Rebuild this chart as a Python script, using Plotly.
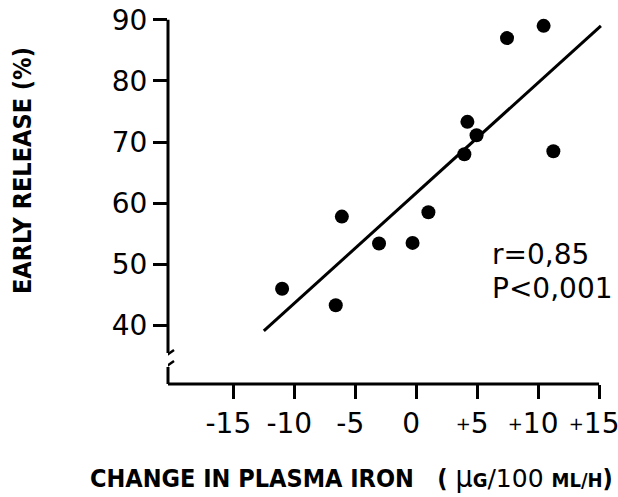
import plotly.graph_objects as go

# Data
iron_change = [-11.0, -6.6, -6.1, -3.05, -0.3, 1.0, 3.95, 4.2, 4.95, 7.45, 10.45, 11.25]
early_release = [46.0, 43.3, 57.8, 53.4, 53.5, 58.5, 68.0, 73.3, 71.1, 87.0, 89.0, 68.5]

fit_x = [-12.5, 15.15]
fit_y = [39.1, 89.0]

x_ticks = [-15, -10, -5, 0, 5, 10, 15]
x_tick_text = ["-15", "-10", "-5", "0", "+5", "+10", "+15"]
y_ticks = [40, 50, 60, 70, 80, 90]
y_tick_text = ["40", "50", "60", "70", "80", "90"]

W, H = 618, 497
L, R, T, B = 168, 6, 8, 113
XR = [-20.36, 16.06]
YR = [30.42, 91.92]

def px2xd(px):
    return XR[0] + (px - L) / (W - L - R) * (XR[1] - XR[0])

def py2yd(py):
    return YR[1] - (py - T) / (H - T - B) * (YR[1] - YR[0])

def pxp(px):
    return (px - L) / (W - L - R)

def pyp(py):
    return (H - B - py) / (H - T - B)

def fmt_tick(t):
    if t.startswith("+"):
        return "<span style='font-size:18px;baseline-shift:3px'>+</span>" + t[1:]
    return t

fig = go.Figure()
fig.add_trace(go.Scatter(x=fit_x, y=fit_y, mode="lines",
                         line=dict(color="black", width=3), showlegend=False))
fig.add_trace(go.Scatter(x=iron_change, y=early_release, mode="markers",
                         marker=dict(color="black", size=14), showlegend=False))

num_font = dict(family="DejaVu Sans", size=28, color="black")
lab_font = dict(family="DejaVu Sans Condensed, Liberation Sans Narrow, DejaVu Sans", size=25, color="black")

fig.update_layout(
    width=W, height=H,
    margin=dict(l=L, r=R, t=T, b=B),
    paper_bgcolor="white", plot_bgcolor="white",
    xaxis=dict(range=XR, showgrid=False, zeroline=False, showline=False,
               tickmode="array", tickvals=x_ticks,
               ticktext=[fmt_tick(t) for t in x_tick_text],
               ticks="outside", ticklen=14, tickwidth=3, tickcolor="black",
               tickfont=num_font, tickangle=0, ticklabeloverflow="allow",
               ticklabelshift=-5, automargin=False),
    yaxis=dict(range=YR, showgrid=False, zeroline=False, showline=False,
               tickmode="array", tickvals=y_ticks, ticktext=y_tick_text,
               ticks="outside", ticklen=14, tickwidth=3, tickcolor="black",
               tickfont=num_font, ticklabeloverflow="allow", automargin=False),
)

lw = dict(color="black", width=3)
# x axis line
fig.add_shape(type="line", xref="x", yref="paper", x0=XR[0], x1=15, y0=0, y1=0, line=lw)
# y axis with break
fig.add_shape(type="line", xref="paper", yref="y", x0=0, x1=0, y0=90, y1=py2yd(353), line=lw)
fig.add_shape(type="line", xref="paper", yref="y", x0=0, x1=0, y0=py2yd(367), y1=YR[0], line=lw)
fig.add_shape(type="line", xref="x", yref="y", x0=px2xd(161), x1=px2xd(174),
              y0=py2yd(359), y1=py2yd(350), line=dict(color="black", width=2.5))
fig.add_shape(type="line", xref="x", yref="y", x0=px2xd(161), x1=px2xd(174),
              y0=py2yd(370), y1=py2yd(361), line=dict(color="black", width=2.5))

fig.add_annotation(xref="paper", yref="paper", x=pxp(23), y=pyp(171),
                   text="<b>EARLY RELEASE (%)</b>", textangle=-90, showarrow=False,
                   font=lab_font, xanchor="center", yanchor="middle")
fig.add_annotation(xref="paper", yref="paper", x=pxp(351), y=pyp(476),
                   text="<b>CHANGE IN PLASMA IRON&nbsp;&nbsp;&nbsp;(&nbsp;</b><span style='font-size:30px'>μ</span>"
                        "<b><span style='font-size:20px'>G</span></b>"
                        "<span style='font-family:DejaVu Sans'>/100 </span>"
                        "<b><span style='font-size:20px'>ML/H</span>)</b>",
                   showarrow=False, font=lab_font, xanchor="center", yanchor="middle")
fig.add_annotation(xref="paper", yref="paper", x=pxp(490), y=pyp(254),
                   text="r=0,85", showarrow=False, font=num_font,
                   xanchor="left", yanchor="middle")
fig.add_annotation(xref="paper", yref="paper", x=pxp(490), y=pyp(288),
                   text="P<0,001", showarrow=False, font=num_font,
                   xanchor="left", yanchor="middle")

fig.write_html("out.html")
